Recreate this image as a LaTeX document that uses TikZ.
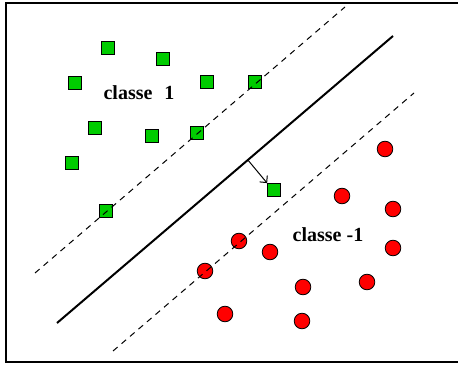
\documentclass[tikz,border=0pt]{standalone}
\usepackage{fontspec}
\setmainfont{Liberation Serif}
\usetikzlibrary{arrows.meta, calc}

\tikzset{
  possq/.style={draw=black, fill=green!80!black, minimum size=6.5pt, inner sep=0pt, line width=0.4pt},
  negpt/.style={circle, draw=black, fill=red, minimum size=7.8pt, inner sep=0pt, line width=0.4pt},
  marginline/.style={dash pattern=on 3pt off 2.6pt, line width=0.5pt},
  classlbl/.style={font=\bfseries}
}

\begin{document}
\begin{tikzpicture}[x=0.5pt, y=-0.5pt, >=Straight Barb]
  \useasboundingbox (0,0) rectangle (458,367);
  \draw[line width=0.8pt] (6,3) rectangle (458.5,362);

  % classe 1
  \foreach \n/\x/\y in {a/108/48, b/163/59, c/75/83, d/207/82, e/255/82,
                        f/95/128, g/152/136, h/197/133, i/72/163, j/106/211, k/274/190}
    \node[possq] (s\n) at (\x,\y) {};

  % classe -1
  \foreach \n/\x/\y in {a/385/149, b/342/196, c/393/209, d/239/241, e/270/252,
                        f/393/248, g/205/271, h/303/287, i/367/282, j/225/314, k/302/321}
    \node[negpt] (r\n) at (\x,\y) {};

  % hyperplan et marges
  \coordinate (h0) at (57,323);
  \coordinate (h1) at (393,36);
  \draw[line width=1pt] (h0) -- (h1);
  \draw[marginline] (35,273) -- (345,7);
  \draw[marginline] (113,351) -- (414,93);

  \coordinate (foot) at ($(h0)!0.568!(h1)$);
  \draw[->, line width=0.5pt] (foot) -- (sk.north west);

  \node[classlbl] (c1) at (139,93) {classe\hspace{6pt}1};
  \node[classlbl] (c2) at (328,235) {classe -1};
\end{tikzpicture}
\end{document}
